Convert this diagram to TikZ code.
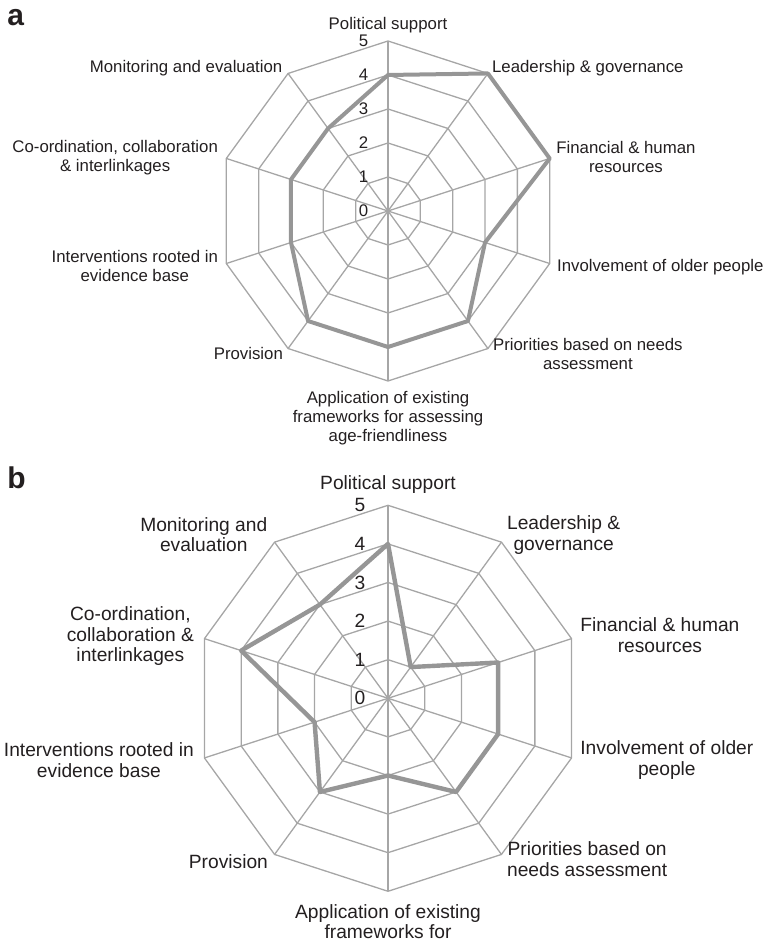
\documentclass[tikz,border=0pt]{standalone}
\usepackage{fontspec}
\setmainfont{Liberation Sans}
\definecolor{gridgray}{RGB}{166,166,166}
\definecolor{datagray}{RGB}{150,150,150}
\definecolor{textblack}{RGB}{35,31,32}
\tikzset{
  gridline/.style = {draw = gridgray, line width = 0.65pt},
  valueaxis/.style = {draw = gridgray, line width = 1pt},
  dataline/.style = {draw = datagray, line width = 2pt, line join = round},
  axislabel/.style = {text = textblack, inner sep = 0pt, align = center},
  panelletter/.style = {text = textblack, inner sep = 0pt, anchor = base west, font = \fontsize{15pt}{15pt}\selectfont\bfseries},
}
\begin{document}
\begin{tikzpicture}[x = 0.5pt, y = 0.5pt]
\useasboundingbox (0,0) rectangle (764,941);
\node [panelletter] (panela) at (7,915) {a};
\node [panelletter] (panelb) at (7,452) {b};
% chart a
\begin{scope}[shift = {(388,730)}, font = \fontsize{8.4pt}{9.5pt}\selectfont]
\pgfmathsetmacro\st{34}
\foreach \l in {1,...,5} \draw [gridline] (90:\l*\st) \foreach \i in {1,...,9} { -- ({90-36*\i}:\l*\st)} -- cycle;
\foreach \i in {1,...,9} \draw [gridline] (0,0) -- ({90-36*\i}:5*\st);
\draw [valueaxis] (0,0) -- (90:5*\st);
\foreach \l in {0,...,5} \node [axislabel, anchor = east] (aval\l) at (-19.5,\l*\st) {\l};
\foreach \v [count = \i from 0] in {4,5,5,3,4,4,4,3,3,3} \coordinate (apt\i) at ({90-36*\i}:\v*\st);
\draw [dataline] (apt0) \foreach \i in {1,...,9} { -- (apt\i)} -- cycle;
\node [axislabel] (apol) at (0,186) {Political support};
\node [axislabel, anchor = west] (alead) at (103.7,142.7) {Leadership \& governance};
\node [axislabel, anchor = west] (afin) at (168,54) {Financial \& human\\resources};
\node [axislabel, anchor = west] (ainv) at (168.7,-55.7) {Involvement of older people};
\node [axislabel, anchor = west] (apri) at (104.7,-143.5) {Priorities based on needs\\assessment};
\node [axislabel] (aapp) at (0,-207.3) {Application of existing\\frameworks for assessing\\age-friendliness};
\node [axislabel, anchor = east] (aprov) at (-104.7,-143) {Provision};
\node [axislabel, anchor = east] (aint) at (-169.7,-55) {Interventions rooted in\\evidence base};
\node [axislabel, anchor = east] (acoo) at (-169.7,53.8) {Co-ordination, collaboration\\\& interlinkages};
\node [axislabel, anchor = east] (amon) at (-105.3,142.7) {Monitoring and evaluation};
\end{scope}
% chart b
\begin{scope}[shift = {(388,242.7)}, font = \fontsize{9.6pt}{10.3pt}\selectfont]
\pgfmathsetmacro\st{38.6}
\foreach \l in {1,...,5} \draw [gridline] (90:\l*\st) \foreach \i in {1,...,9} { -- ({90-36*\i}:\l*\st)} -- cycle;
\foreach \i in {1,...,9} \draw [gridline] (0,0) -- ({90-36*\i}:5*\st);
\draw [valueaxis] (0,0) -- (90:5*\st);
\foreach \l in {0,...,5} \node [axislabel, anchor = east] (bval\l) at (-22.3,\l*\st) {\l};
\foreach \v [count = \i from 0] in {4,1,3,3,3,2,3,2,4,3} \coordinate (bpt\i) at ({90-36*\i}:\v*\st);
\draw [dataline, line width = 2.2pt] (bpt0) \foreach \i in {1,...,9} { -- (bpt\i)} -- cycle;
\node [axislabel] (bpol) at (0,213.3) {Political support};
\node [axislabel, anchor = west] (blead) at (118.7,163.3) {Leadership \&\\governance};
\node [axislabel, anchor = west] (bfin) at (192,63) {Financial \& human\\resources};
\node [axislabel, anchor = west] (binv) at (192,-61.9) {Involvement of older\\people};
\node [axislabel, anchor = west] (bpri) at (118.7,-161) {Priorities based on\\needs assessment};
\node [axislabel] (bapp) at (0,-223.4) {Application of existing\\frameworks for};
\node [axislabel, anchor = east] (bprov) at (-119.7,-163.4) {Provision};
\node [axislabel, anchor = east] (bint) at (-193.7,-62.1) {Interventions rooted in\\evidence base};
\node [axislabel, anchor = east] (bcoo) at (-193.7,62.2) {Co-ordination,\\collaboration \&\\interlinkages};
\node [axislabel, anchor = east] (bmon) at (-120.3,163.8) {Monitoring and\\evaluation};
\end{scope}
\end{tikzpicture}
\end{document}
